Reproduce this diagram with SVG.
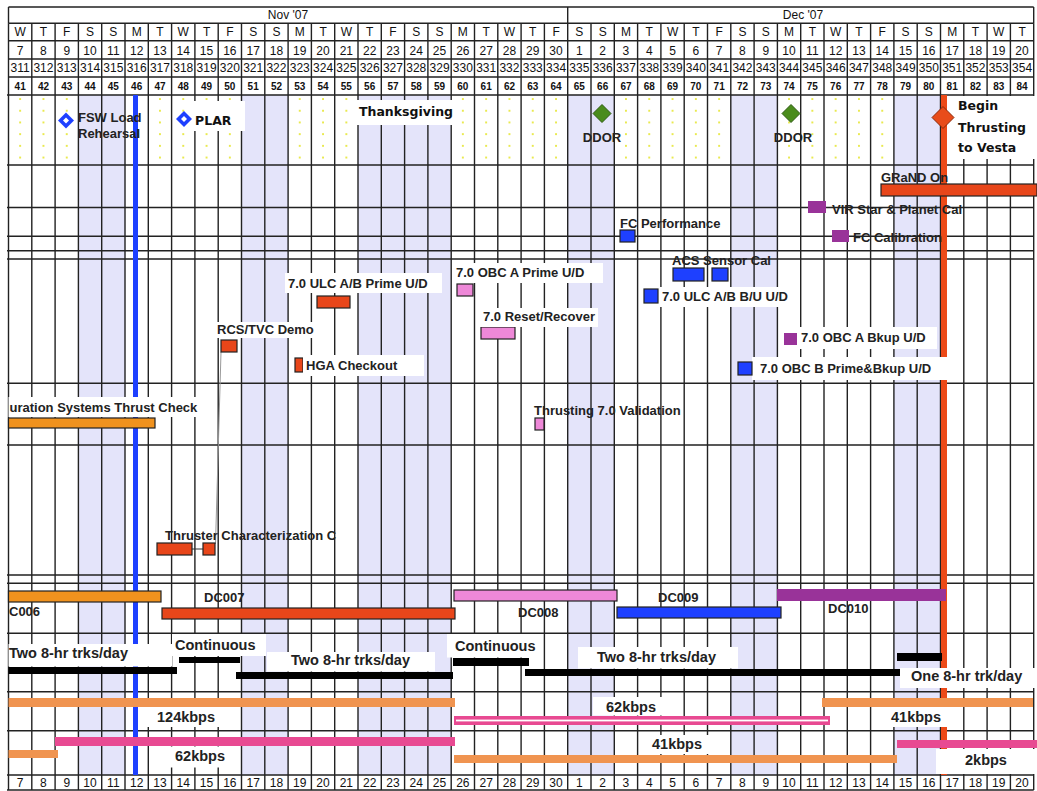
<svg xmlns="http://www.w3.org/2000/svg" width="1037" height="791" viewBox="0 0 1037 791">
<style>
.grid{stroke:#222;stroke-width:1.4;fill:none}
.hd{font-family:"Liberation Sans",Arial,sans-serif;font-size:12px;fill:#111;text-anchor:middle}
.wk{font-weight:bold;font-size:10px}
.lb{font-family:"Liberation Sans",Arial,sans-serif;font-size:13px;font-weight:bold;fill:#222}
.tr{font-size:14.5px}
.ev{font-family:"DejaVu Sans",Verdana,sans-serif;font-weight:bold;font-size:12.5px;fill:#111}
.box{fill:#fff}
.bar{stroke:#222;stroke-width:1.2}
.red{fill:#e8461a}
.org{fill:#f0921e}
.pnk{fill:#ee88d8}
.blu{fill:#1e40ff}
.pur{fill:#993399}
.blk{fill:#000}
.sal{fill:#f09450}
.mag{fill:#e84a92}
.shade{fill:#e4e4fa}
</style>
<defs>
<pattern id="dots" patternUnits="userSpaceOnUse" x="8.5" y="93.2" width="23.3" height="11.7">
<circle cx="11.65" cy="5.85" r="0.9" fill="#e0e000"/>
</pattern>
</defs>
<rect width="1037" height="791" fill="#fff"/>
<g id="background">
<rect x="8.5" y="95" width="1025.2" height="70" fill="url(#dots)"/>
<rect class="shade" x="78.4" y="95" width="46.6" height="680"/>
<rect class="shade" x="241.5" y="95" width="46.6" height="680"/>
<rect class="shade" x="358" y="95" width="93.2" height="680"/>
<rect class="shade" x="567.7" y="95" width="46.6" height="680"/>
<rect class="shade" x="730.8" y="95" width="46.6" height="680"/>
<rect class="shade" x="893.9" y="95" width="46.6" height="680"/>
</g>
<g id="grid">
<path class="grid" d="M8.5 23.3V790M31.8 23.3V790M55.1 23.3V790M78.4 23.3V790M101.7 23.3V790M125 23.3V790M148.3 23.3V790M171.6 23.3V790M194.9 23.3V790M218.2 23.3V790M241.5 23.3V790M264.8 23.3V790M288.1 23.3V790M311.4 23.3V790M334.7 23.3V790M358 23.3V790M381.3 23.3V790M404.6 23.3V790M427.9 23.3V790M451.2 23.3V790M474.5 23.3V790M497.8 23.3V790M521.1 23.3V790M544.4 23.3V790M567.7 23.3V790M591 23.3V790M614.3 23.3V790M637.6 23.3V790M660.9 23.3V790M684.2 23.3V790M707.5 23.3V790M730.8 23.3V790M754.1 23.3V790M777.4 23.3V790M800.7 23.3V790M824 23.3V790M847.3 23.3V790M870.6 23.3V790M893.9 23.3V790M917.2 23.3V790M940.5 23.3V790M963.8 23.3V790M987.1 23.3V790M1010.4 23.3V790M1033.7 23.3V790"/>
<path class="grid" d="M8.5 7V23.3M567.7 7V23.3M1033.7 7V23.3"/>
<path class="grid" d="M8.5 7H1033.7M8.5 23.3H1033.7M8.5 40.7H1033.7M8.5 59H1033.7M8.5 77H1033.7M7 95H1033.7M7 165H1033.7M7 207.5H1033.7M7 236.3H1033.7M7 250.7H1033.7M7 259H1033.7M7 383.3H1033.7M7 445H1033.7M7 575H1033.7M7 583.3H1033.7M7 633.3H1033.7M7 691.7H1033.7M7 730.7H1033.7M7 775H1033.7M7 790H1033.7"/>
</g>
<g id="header">
<text class="hd" x="288" y="18.5">Nov '07</text>
<text class="hd" x="803" y="18.5">Dec '07</text>
<text class="hd" y="36" x="20.15 43.45 66.75 90.05 113.35 136.65 159.95 183.25 206.55 229.85 253.15 276.45 299.75 323.05 346.35 369.65 392.95 416.25 439.55 462.85 486.15 509.45 532.75 556.05 579.35 602.65 625.95 649.25 672.55 695.85 719.15 742.45 765.75 789.05 812.35 835.65 858.95 882.25 905.55 928.85 952.15 975.45 998.75 1022.05">WTFSSMTWTFSSMTWTFSSMTWTFSSMTWTFSSMTWTFSSMTWT</text>
<text class="hd" y="54.5"><tspan x="20.15">7</tspan><tspan x="43.45">8</tspan><tspan x="66.75">9</tspan><tspan x="90.05">10</tspan><tspan x="113.35">11</tspan><tspan x="136.65">12</tspan><tspan x="159.95">13</tspan><tspan x="183.25">14</tspan><tspan x="206.55">15</tspan><tspan x="229.85">16</tspan><tspan x="253.15">17</tspan><tspan x="276.45">18</tspan><tspan x="299.75">19</tspan><tspan x="323.05">20</tspan><tspan x="346.35">21</tspan><tspan x="369.65">22</tspan><tspan x="392.95">23</tspan><tspan x="416.25">24</tspan><tspan x="439.55">25</tspan><tspan x="462.85">26</tspan><tspan x="486.15">27</tspan><tspan x="509.45">28</tspan><tspan x="532.75">29</tspan><tspan x="556.05">30</tspan><tspan x="579.35">1</tspan><tspan x="602.65">2</tspan><tspan x="625.95">3</tspan><tspan x="649.25">4</tspan><tspan x="672.55">5</tspan><tspan x="695.85">6</tspan><tspan x="719.15">7</tspan><tspan x="742.45">8</tspan><tspan x="765.75">9</tspan><tspan x="789.05">10</tspan><tspan x="812.35">11</tspan><tspan x="835.65">12</tspan><tspan x="858.95">13</tspan><tspan x="882.25">14</tspan><tspan x="905.55">15</tspan><tspan x="928.85">16</tspan><tspan x="952.15">17</tspan><tspan x="975.45">18</tspan><tspan x="998.75">19</tspan><tspan x="1022.05">20</tspan></text>
<text class="hd" y="71.5"><tspan x="20.15">311</tspan><tspan x="43.45">312</tspan><tspan x="66.75">313</tspan><tspan x="90.05">314</tspan><tspan x="113.35">315</tspan><tspan x="136.65">316</tspan><tspan x="159.95">317</tspan><tspan x="183.25">318</tspan><tspan x="206.55">319</tspan><tspan x="229.85">320</tspan><tspan x="253.15">321</tspan><tspan x="276.45">322</tspan><tspan x="299.75">323</tspan><tspan x="323.05">324</tspan><tspan x="346.35">325</tspan><tspan x="369.65">326</tspan><tspan x="392.95">327</tspan><tspan x="416.25">328</tspan><tspan x="439.55">329</tspan><tspan x="462.85">330</tspan><tspan x="486.15">331</tspan><tspan x="509.45">332</tspan><tspan x="532.75">333</tspan><tspan x="556.05">334</tspan><tspan x="579.35">335</tspan><tspan x="602.65">336</tspan><tspan x="625.95">337</tspan><tspan x="649.25">338</tspan><tspan x="672.55">339</tspan><tspan x="695.85">340</tspan><tspan x="719.15">341</tspan><tspan x="742.45">342</tspan><tspan x="765.75">343</tspan><tspan x="789.05">344</tspan><tspan x="812.35">345</tspan><tspan x="835.65">346</tspan><tspan x="858.95">347</tspan><tspan x="882.25">348</tspan><tspan x="905.55">349</tspan><tspan x="928.85">350</tspan><tspan x="952.15">351</tspan><tspan x="975.45">352</tspan><tspan x="998.75">353</tspan><tspan x="1022.05">354</tspan></text>
<text class="hd wk" y="90"><tspan x="20.15">41</tspan><tspan x="43.45">42</tspan><tspan x="66.75">43</tspan><tspan x="90.05">44</tspan><tspan x="113.35">45</tspan><tspan x="136.65">46</tspan><tspan x="159.95">47</tspan><tspan x="183.25">48</tspan><tspan x="206.55">49</tspan><tspan x="229.85">50</tspan><tspan x="253.15">51</tspan><tspan x="276.45">52</tspan><tspan x="299.75">53</tspan><tspan x="323.05">54</tspan><tspan x="346.35">55</tspan><tspan x="369.65">56</tspan><tspan x="392.95">57</tspan><tspan x="416.25">58</tspan><tspan x="439.55">59</tspan><tspan x="462.85">60</tspan><tspan x="486.15">61</tspan><tspan x="509.45">62</tspan><tspan x="532.75">63</tspan><tspan x="556.05">64</tspan><tspan x="579.35">65</tspan><tspan x="602.65">66</tspan><tspan x="625.95">67</tspan><tspan x="649.25">68</tspan><tspan x="672.55">69</tspan><tspan x="695.85">70</tspan><tspan x="719.15">71</tspan><tspan x="742.45">72</tspan><tspan x="765.75">73</tspan><tspan x="789.05">74</tspan><tspan x="812.35">75</tspan><tspan x="835.65">76</tspan><tspan x="858.95">77</tspan><tspan x="882.25">78</tspan><tspan x="905.55">79</tspan><tspan x="928.85">80</tspan><tspan x="952.15">81</tspan><tspan x="975.45">82</tspan><tspan x="998.75">83</tspan><tspan x="1022.05">84</tspan></text>
<text class="hd" y="786.5"><tspan x="20.15">7</tspan><tspan x="43.45">8</tspan><tspan x="66.75">9</tspan><tspan x="90.05">10</tspan><tspan x="113.35">11</tspan><tspan x="136.65">12</tspan><tspan x="159.95">13</tspan><tspan x="183.25">14</tspan><tspan x="206.55">15</tspan><tspan x="229.85">16</tspan><tspan x="253.15">17</tspan><tspan x="276.45">18</tspan><tspan x="299.75">19</tspan><tspan x="323.05">20</tspan><tspan x="346.35">21</tspan><tspan x="369.65">22</tspan><tspan x="392.95">23</tspan><tspan x="416.25">24</tspan><tspan x="439.55">25</tspan><tspan x="462.85">26</tspan><tspan x="486.15">27</tspan><tspan x="509.45">28</tspan><tspan x="532.75">29</tspan><tspan x="556.05">30</tspan><tspan x="579.35">1</tspan><tspan x="602.65">2</tspan><tspan x="625.95">3</tspan><tspan x="649.25">4</tspan><tspan x="672.55">5</tspan><tspan x="695.85">6</tspan><tspan x="719.15">7</tspan><tspan x="742.45">8</tspan><tspan x="765.75">9</tspan><tspan x="789.05">10</tspan><tspan x="812.35">11</tspan><tspan x="835.65">12</tspan><tspan x="858.95">13</tspan><tspan x="882.25">14</tspan><tspan x="905.55">15</tspan><tspan x="928.85">16</tspan><tspan x="952.15">17</tspan><tspan x="975.45">18</tspan><tspan x="998.75">19</tspan><tspan x="1022.05">20</tspan></text>
</g>
<g id="markers">
<line x1="135.5" y1="95" x2="135.5" y2="775" stroke="#1e40ff" stroke-width="5"/>
<line x1="944" y1="95" x2="944" y2="775" stroke="#ec4a18" stroke-width="6"/>
</g>
<g id="connectors">
<line x1="221" y1="352" x2="215.5" y2="544" stroke="#999" stroke-width="1"/>
<line x1="192" y1="549" x2="203" y2="549" stroke="#333" stroke-width="1"/>
</g>
<g id="bars">
<rect class="bar red" x="881" y="184" width="156" height="12"/>
<rect class="bar blu" x="620" y="230" width="15" height="12"/>
<rect class="bar blu" x="673" y="268" width="31" height="13"/>
<rect class="bar blu" x="712" y="268" width="16" height="13"/>
<rect class="bar pnk" x="457" y="284" width="16" height="12"/>
<rect class="bar red" x="317" y="296" width="33" height="12"/>
<rect class="bar pnk" x="481" y="327" width="34" height="12"/>
<rect class="bar red" x="221" y="340" width="16" height="12"/>
<rect class="bar red" x="295" y="358" width="8" height="14"/>
<rect class="bar org" x="8.5" y="418" width="146.5" height="10"/>
<rect class="bar pnk" x="535" y="418" width="9" height="12"/>
<rect class="bar red" x="157" y="543" width="35" height="12"/>
<rect class="bar red" x="203" y="543" width="12" height="12"/>
<rect class="bar org" x="8.5" y="591" width="152.5" height="11"/>
<rect class="bar red" x="162" y="608" width="293" height="11"/>
<rect class="bar pnk" x="454" y="590" width="163" height="11"/>
<rect class="bar blu" x="617" y="607" width="164" height="11"/>
<rect class="pur" x="777" y="589" width="169" height="12"/>
<rect class="blk" x="8.5" y="667" width="168.5" height="7"/>
<rect class="blk" x="179" y="657" width="61" height="6"/>
<rect class="blk" x="236" y="672" width="217" height="7"/>
<rect class="blk" x="453" y="658" width="76" height="8"/>
<rect class="blk" x="525" y="669" width="375" height="7"/>
<rect class="blk" x="897" y="653" width="45" height="8"/>
<rect class="sal" x="8.5" y="698" width="446.5" height="9"/>
<rect class="sal" x="822" y="698" width="211" height="9"/>
<rect class="sal" x="8.5" y="750" width="49.5" height="8"/>
<rect class="sal" x="454" y="755" width="443" height="8"/>
<rect class="mag" x="55" y="737" width="400" height="9"/>
<rect class="mag" x="897" y="740" width="140" height="8"/>
<rect class="mag" x="454" y="716" width="376" height="9"/>
<rect fill="#fff" x="456" y="719.6" width="372" height="1.8"/>
</g>
<g id="label-boxes">
<rect class="box" x="192" y="101" width="53" height="30"/>
<rect class="box" x="357" y="100" width="97" height="25"/>
<rect class="box" x="949" y="96" width="88" height="63"/>
<rect class="box" x="285" y="273" width="157" height="20"/>
<rect class="box" x="453" y="263" width="150" height="20"/>
<rect class="box" x="217" y="322" width="100" height="16"/>
<rect class="box" x="303" y="355" width="121" height="21"/>
<rect class="box" x="480" y="308" width="118" height="19"/>
<rect class="box" x="659" y="287" width="133" height="20"/>
<rect class="box" x="798" y="327" width="139" height="22"/>
<rect class="box" x="752" y="357" width="195" height="23"/>
<rect class="box" x="8.5" y="397" width="188.5" height="20"/>
<rect class="box" x="8.5" y="644" width="163.5" height="22.5"/>
<rect class="box" x="172" y="634" width="94" height="22"/>
<rect class="box" x="267" y="652" width="168" height="19.5"/>
<rect class="box" x="447" y="634" width="88" height="23.5"/>
<rect class="box" x="578" y="647" width="160" height="21.5"/>
<rect class="box" x="900" y="668" width="137" height="20"/>
<rect class="box" x="138" y="707" width="102" height="20"/>
<rect class="box" x="158" y="746.5" width="82" height="21"/>
<rect class="box" x="593" y="697" width="75" height="18.5"/>
<rect class="box" x="878" y="707" width="77" height="20"/>
<rect class="box" x="640" y="735" width="75" height="19"/>
<rect class="box" x="936" y="749" width="101" height="25"/>
</g>
<g id="ev-fsw">
<path d="M66 112.5L74 120.5L66 128.5L58 120.5Z" fill="#1e40ff"/>
<path d="M66 117.5L69 120.5L66 123.5L63 120.5Z" fill="#fff"/>
<text class="lb" x="78" y="122">FSW Load</text>
<text class="lb" x="78" y="137.5">Rehearsal</text>
</g>
<g id="ev-plar">
<path d="M184 111L192 119L184 127L176 119Z" fill="#1e40ff"/>
<path d="M184 116L187 119L184 122L181 119Z" fill="#fff"/>
<text class="ev" x="195" y="124.5">PLAR</text>
</g>
<g id="ev-thanksgiving"><text class="ev" x="359" y="116">Thanksgiving</text></g>
<g id="ev-ddor1">
<path d="M602 104.5L611 113.5L602 122.5L593 113.5Z" fill="#4a8c1c" stroke="#2c5a10" stroke-width="1"/>
<text class="lb" x="602" y="141.5" text-anchor="middle">DDOR</text>
</g>
<g id="ev-ddor2">
<path d="M791 104.5L800 113.5L791 122.5L782 113.5Z" fill="#4a8c1c" stroke="#2c5a10" stroke-width="1"/>
<text class="lb" x="793" y="141.5" text-anchor="middle">DDOR</text>
</g>
<g id="ev-begin">
<path d="M943 106.5L954 117.5L943 128.5L932 117.5Z" fill="#e84c1a" stroke="#8a2a0a" stroke-width="1"/>
<text class="ev" x="958" y="110">Begin</text>
<text class="ev" x="958" y="131.5">Thrusting</text>
<text class="ev" x="958" y="152">to Vesta</text>
</g>
<g id="t-grand"><text class="lb" x="881" y="182">GRaND On</text></g>
<g id="t-vir"><rect class="pur" x="808" y="201" width="18" height="12"/><text class="lb" x="832" y="214">VIR Star &amp; Planet Cal</text></g>
<g id="t-fccal"><rect class="pur" x="832" y="230" width="17" height="12"/><text class="lb" x="853" y="242">FC Calibration</text></g>
<g id="t-fcperf"><text class="lb" x="620" y="228">FC Performance</text></g>
<g id="t-acs"><text class="lb" x="672" y="265">ACS Sensor Cal</text></g>
<g id="t-obcaprime"><text class="lb" x="456" y="277">7.0 OBC A Prime U/D</text></g>
<g id="t-ulcprime"><text class="lb" x="288" y="288">7.0 ULC A/B Prime U/D</text></g>
<g id="t-ulcbu"><rect class="bar blu" x="644" y="289" width="14" height="14"/><text class="lb" x="662" y="300.5">7.0 ULC A/B B/U U/D</text></g>
<g id="t-reset"><text class="lb" x="483" y="321">7.0 Reset/Recover</text></g>
<g id="t-rcs"><text class="lb" x="217" y="334">RCS/TVC Demo</text></g>
<g id="t-obcabkup"><rect class="pur" x="784" y="333" width="13" height="12"/><text class="lb" x="801" y="342">7.0 OBC A Bkup U/D</text></g>
<g id="t-hga"><text class="lb" x="306" y="369.5">HGA Checkout</text></g>
<g id="t-obcb"><rect class="bar blu" x="738" y="362" width="14" height="13"/><text class="lb" x="760" y="372.5">7.0 OBC B Prime&amp;Bkup U/D</text></g>
<g id="t-thrustcheck"><text class="lb" x="9.5" y="411.5">uration Systems Thrust Check</text></g>
<g id="t-validation"><text class="lb" x="534" y="414.5">Thrusting 7.0 Validation</text></g>
<g id="t-thruster"><text class="lb" x="165" y="540">Thruster Characterization C</text></g>
<g id="dc006"><text class="lb" x="9" y="616">C006</text></g>
<g id="dc007"><text class="lb" x="204" y="601.5">DC007</text></g>
<g id="dc008"><text class="lb" x="518" y="616.5">DC008</text></g>
<g id="dc009"><text class="lb" x="658" y="601.5">DC009</text></g>
<g id="dc010"><text class="lb" x="828" y="613">DC010</text></g>
<g id="tracks">
<text class="lb tr" x="9" y="657.5">Two 8-hr trks/day</text>
<text class="lb tr" x="175" y="649.5">Continuous</text>
<text class="lb tr" x="291" y="665">Two 8-hr trks/day</text>
<text class="lb tr" x="455" y="650.5">Continuous</text>
<text class="lb tr" x="597" y="661.5">Two 8-hr trks/day</text>
<text class="lb tr" x="911" y="680.5">One 8-hr trk/day</text>
</g>
<g id="rates">
<text class="lb tr" x="157" y="721.5">124kbps</text>
<text class="lb tr" x="175" y="760.5">62kbps</text>
<text class="lb tr" x="606" y="711.5">62kbps</text>
<text class="lb tr" x="891" y="721.5">41kbps</text>
<text class="lb tr" x="652" y="749">41kbps</text>
<text class="lb tr" x="965" y="765">2kbps</text>
</g>
</svg>
